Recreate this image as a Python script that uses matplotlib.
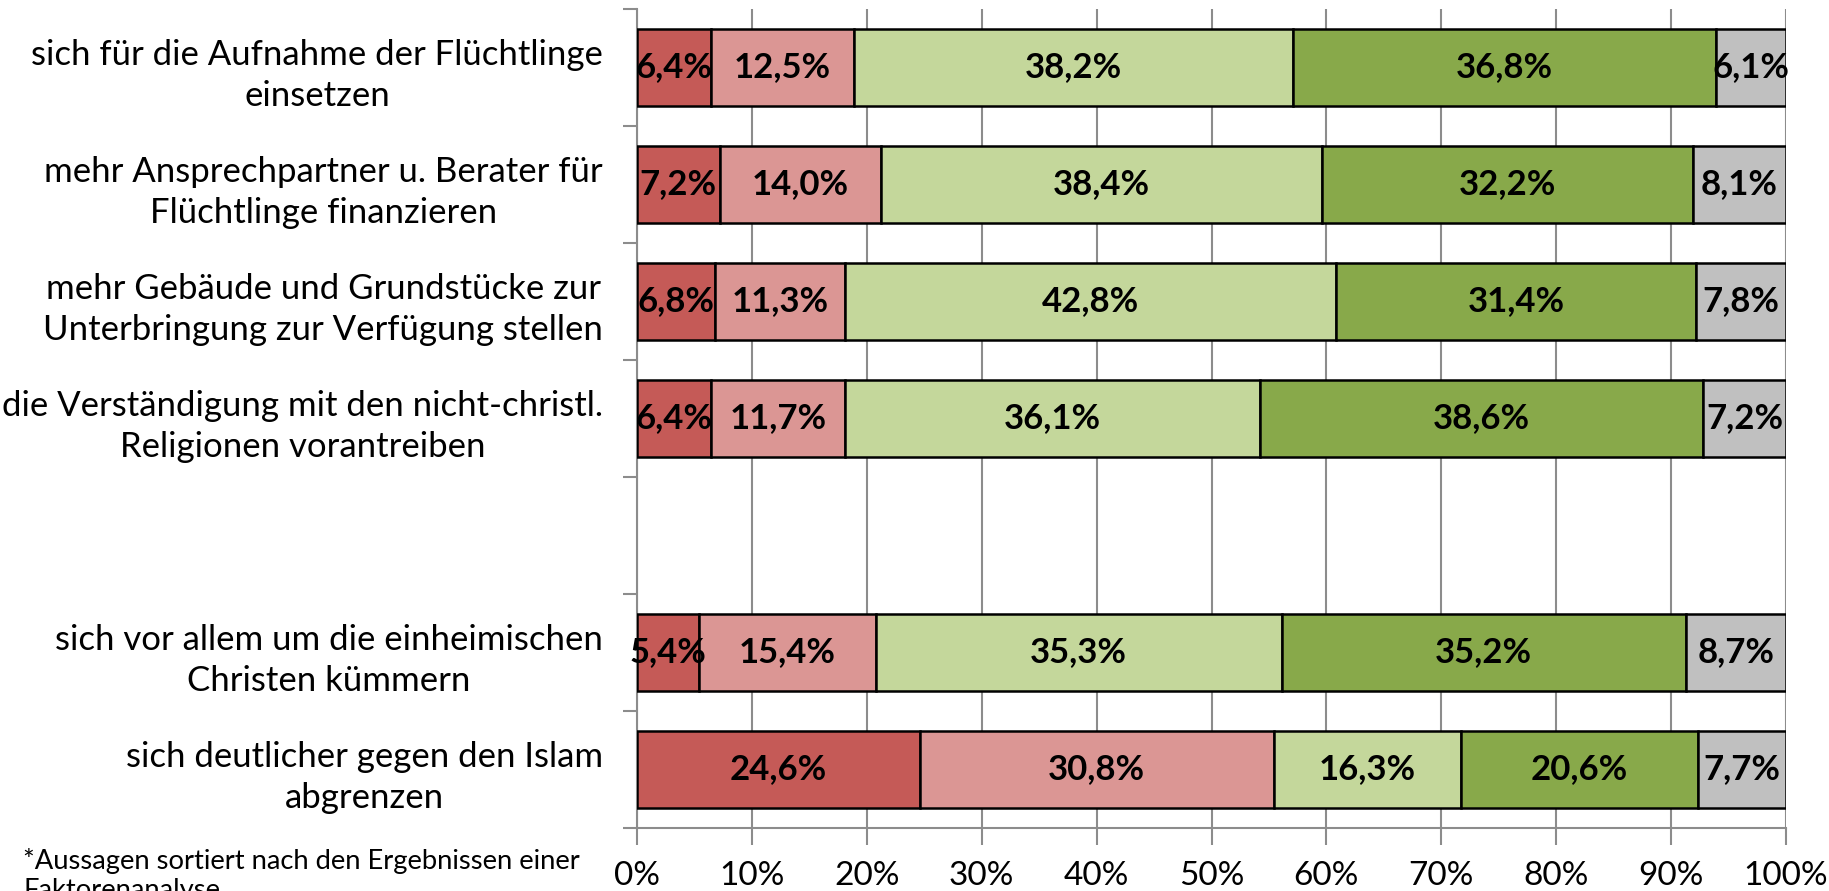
import matplotlib
matplotlib.use("Agg")
import matplotlib.pyplot as plt
import numpy as np

categories = [
    "sich für die Aufnahme der Flüchtlinge\neinsetzen",
    "mehr Ansprechpartner u. Berater für\nFlüchtlinge finanzieren",
    "mehr Gebäude und Grundstücke zur\nUnterbringung zur Verfügung stellen",
    "die Verständigung mit den nicht-christl.\nReligionen vorantreiben",
    "",
    "sich vor allem um die einheimischen\nChristen kümmern",
    "sich deutlicher gegen den Islam\nabgrenzen",
]
s1 = [6.4, 7.2, 6.8, 6.4, None, 5.4, 24.6]
s2 = [12.5, 14.0, 11.3, 11.7, None, 15.4, 30.8]
s3 = [38.2, 38.4, 42.8, 36.1, None, 35.3, 16.3]
s4 = [36.8, 32.2, 31.4, 38.6, None, 35.2, 20.6]
s5 = [6.1, 8.1, 7.8, 7.2, None, 8.7, 7.7]
series = [s1, s2, s3, s4, s5]
colors = ["#C55A57", "#DB9694", "#C4D79B", "#88A94A", "#C0C0C0"]
xticklabels = ["0%", "10%", "20%", "30%", "40%", "50%", "60%", "70%", "80%", "90%", "100%"]
footnote = "*Aussagen sortiert nach den Ergebnissen einer\nFaktorenanalyse"

plt.rcParams['font.family'] = ['Lato', 'DejaVu Sans']

fig = plt.figure(figsize=(18.29, 8.91), dpi=100)
ax = fig.add_axes([637/1829, 1 - 828/891, (1786-637)/1829, (828-9)/891])

n = len(categories)
ypos = np.arange(n)
for i in range(n):
    vals = [s[i] for s in series]
    if vals[0] is None:
        continue
    tot = sum(vals)
    left = 0.0
    for v, c in zip(vals, colors):
        w = v / tot
        ax.barh(ypos[i], w, left=left, height=0.66, color=c,
                edgecolor="black", linewidth=1.8, zorder=3)
        ax.text(left + w / 2, ypos[i], f"{v:.1f}%".replace(".", ","),
                ha="center", va="center", fontsize=25, fontweight="bold",
                color="black", zorder=4)
        left += w

ax.set_xlim(0, 1)
ax.set_ylim(n - 0.5, -0.5)
ax.set_xticks(np.linspace(0, 1, 11))
ax.set_xticklabels(xticklabels, fontsize=24)
ax.xaxis.grid(True, color="#8C8C8C", linewidth=1.5, zorder=0)
ax.set_yticks(ypos)
ax.set_yticklabels(categories, fontsize=25, multialignment="center")
for lbl in ax.get_yticklabels():
    lbl.set_linespacing(1.35)
ax.set_yticks(np.arange(n + 1) - 0.5, minor=True)
ax.tick_params(axis="y", which="major", length=0, pad=24.5)
ax.tick_params(axis="y", which="minor", length=10, width=1.5, color="#8C8C8C")
ax.tick_params(axis="x", length=12, width=1.5, color="#8C8C8C", pad=12)
for s in ["top", "right"]:
    ax.spines[s].set_visible(False)
for s in ["left", "bottom"]:
    ax.spines[s].set_color("#8C8C8C")
    ax.spines[s].set_linewidth(1.5)

fig.text(23/1829, 1 - 848/891, footnote, fontsize=19.7, va="top", ha="left",
         linespacing=1.2)

fig.savefig("out.png", dpi=100)
